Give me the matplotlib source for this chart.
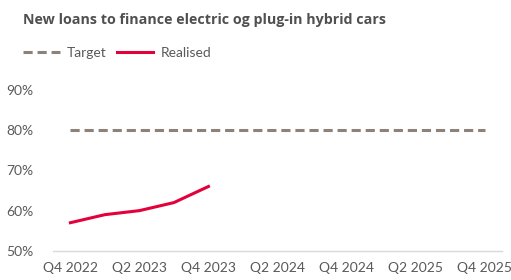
import numpy as np
import matplotlib.pyplot as plt

quarters = ["Q4 2022", "Q1 2023", "Q2 2023", "Q3 2023", "Q4 2023",
            "Q1 2024", "Q2 2024", "Q3 2024", "Q4 2024",
            "Q1 2025", "Q2 2025", "Q3 2025", "Q4 2025"]
target = [80] * len(quarters)
realised = [57, 59, 60, 62, 66]
yticks = [50, 60, 70, 80, 90]

plt.rcParams['font.family'] = ['Lato', 'DejaVu Sans']

fig = plt.figure(figsize=(5.11, 2.80), dpi=100)
ax = fig.add_axes([0.104, 0.104, 0.878, 0.575])

x = np.arange(len(quarters))
ax.plot(x, target, color="#8c8279", lw=2.2, ls=(0, (3, 1.6)), solid_capstyle="butt", label="Target")
ax.plot(x[:len(realised)], realised, color="#e4003a", lw=2.2, label="Realised")

ax.set_xlim(-0.5, len(quarters) - 0.5)
ax.set_ylim(50, 90)
ax.set_yticks(yticks)
ax.set_yticklabels([f"{v}%" for v in yticks])
ax.set_xticks(x[::2])
ax.set_xticklabels(quarters[::2])
ax.tick_params(length=0, labelsize=10, colors="#595959", pad=8)
ax.tick_params(axis="y", pad=14)

for s in ["top", "right", "left"]:
    ax.spines[s].set_visible(False)
ax.spines["bottom"].set_color("#d9d9d9")
ax.spines["bottom"].set_linewidth(1)

fig.text(0.045, 0.93, "New loans to finance electric og plug-in hybrid cars",
         fontsize=10.3, fontweight="bold", color="#505050", va="center",
         family=["Open Sans", "DejaVu Sans"])
fig.legend(loc="center left", bbox_to_anchor=(0.035, 0.81), ncol=2, frameon=False,
           fontsize=10, labelcolor="#595959", handlelength=2.6, handletextpad=0.5,
           columnspacing=0.8, borderaxespad=0)

fig.savefig("out.png", dpi=100)
